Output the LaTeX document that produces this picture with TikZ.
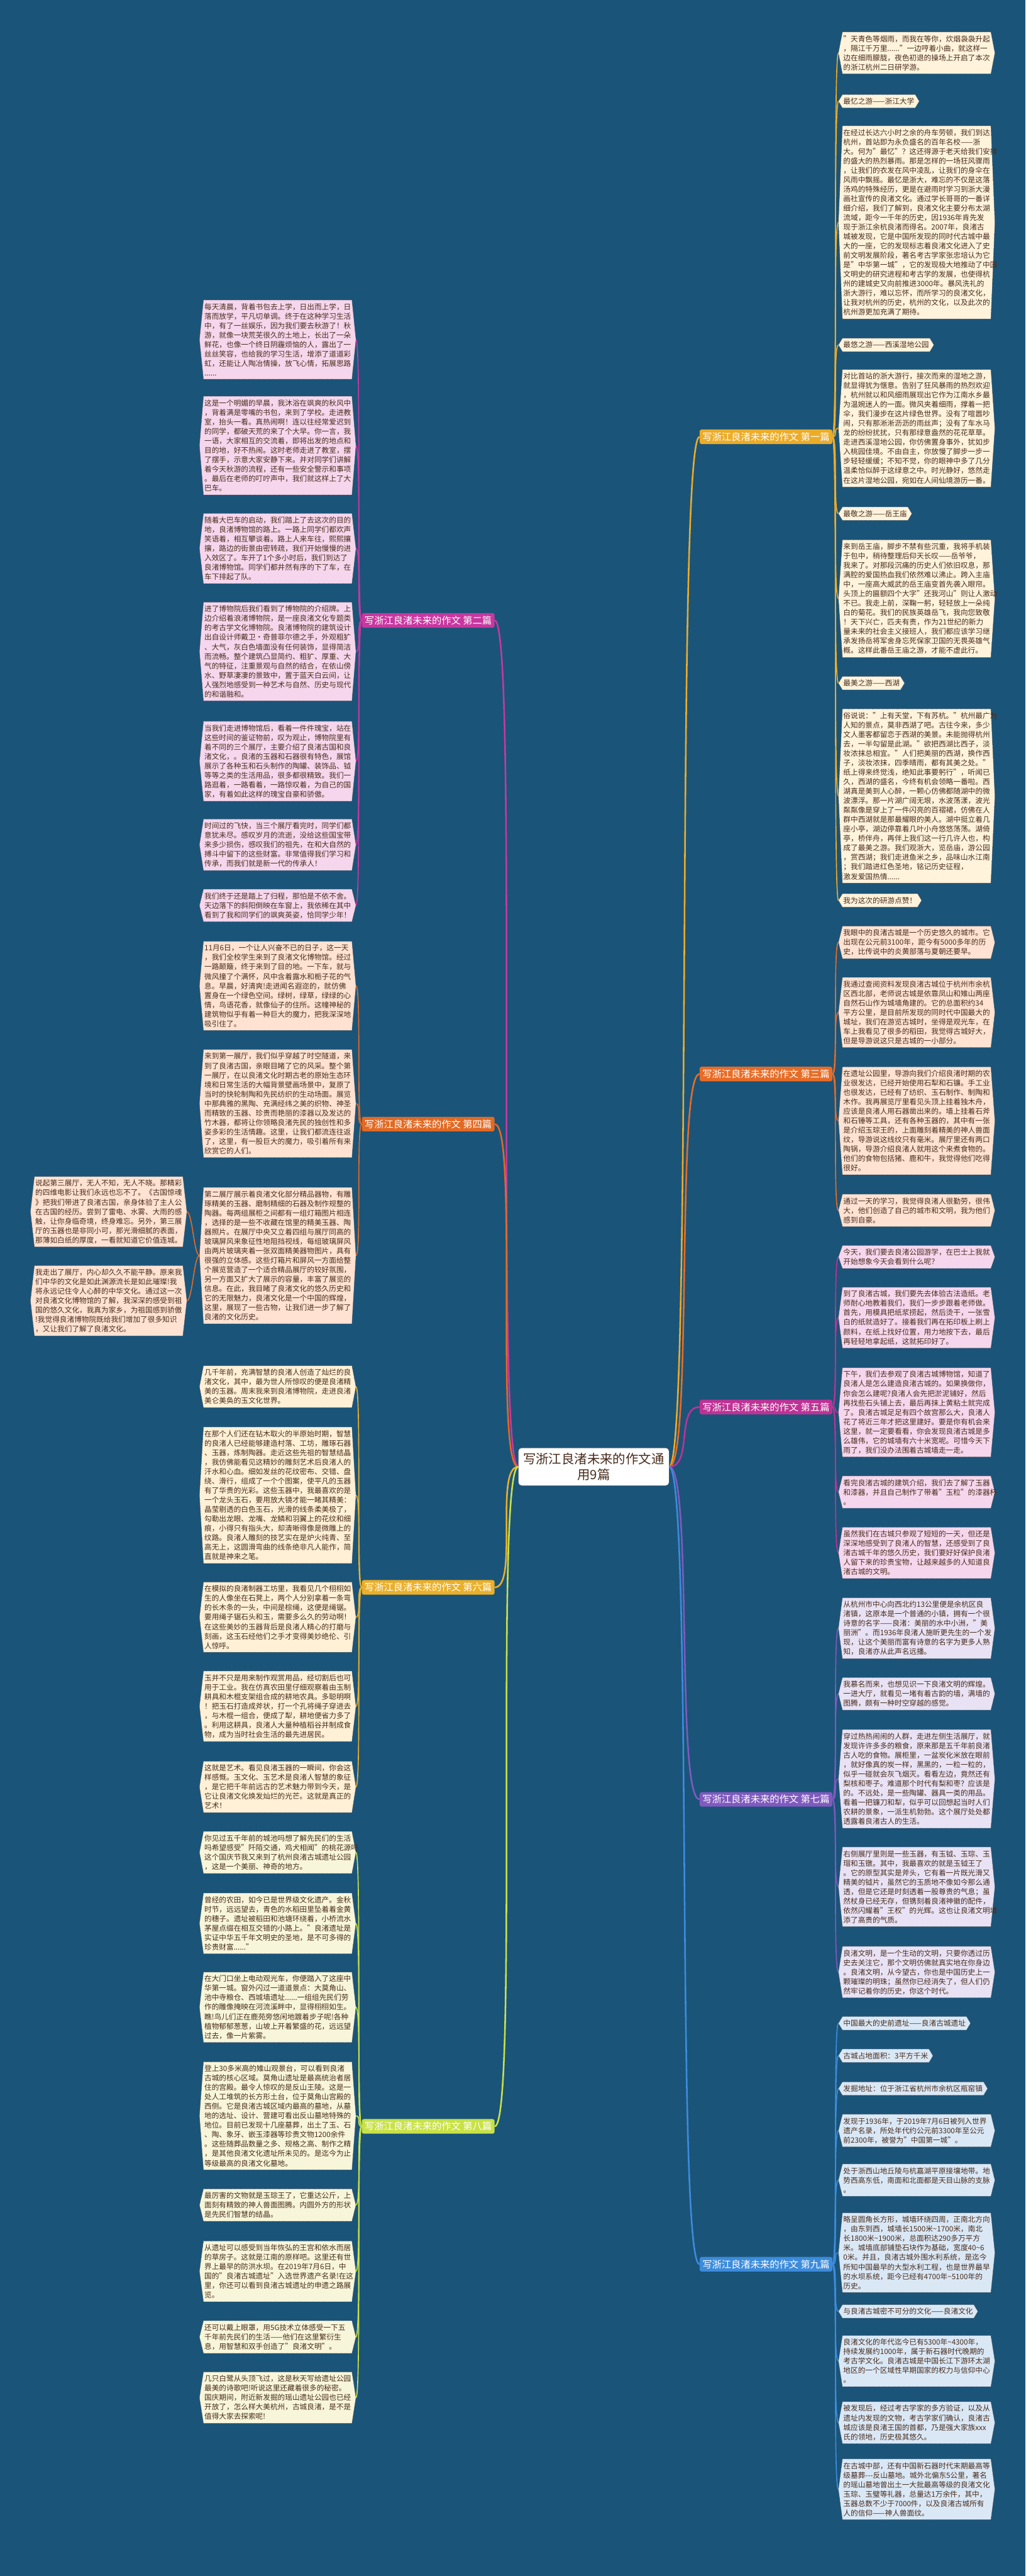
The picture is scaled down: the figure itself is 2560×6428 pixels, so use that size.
\documentclass[tikz,border=0pt]{standalone}
\usepackage{fontspec}
\setmainfont{Noto Sans CJK SC}
\usetikzlibrary{backgrounds}

\definecolor{sea}{RGB}{27,84,121}
\definecolor{ink}{RGB}{72,44,28}
\definecolor{edge}{RGB}{80,80,80}
\definecolor{c1}{RGB}{236,172,40}
\definecolor{c2}{RGB}{200,55,160}
\definecolor{c3}{RGB}{232,108,38}
\definecolor{c4}{RGB}{226,106,36}
\definecolor{c5}{RGB}{190,50,150}
\definecolor{c6}{RGB}{234,176,42}
\definecolor{c7}{RGB}{128,90,190}
\definecolor{c8}{RGB}{200,226,70}
\definecolor{c9}{RGB}{60,140,220}
\definecolor{f1}{RGB}{255,243,220}
\definecolor{f2}{RGB}{246,214,236}
\definecolor{f3}{RGB}{255,226,210}
\definecolor{f5}{RGB}{246,214,236}
\definecolor{f6}{RGB}{255,240,214}
\definecolor{f7}{RGB}{232,226,244}
\definecolor{f8}{RGB}{248,246,218}
\definecolor{f9}{RGB}{218,232,246}

\newcommand\leaffont{\fontsize{18.3}{23.6}\selectfont}
\newcommand\branchfont{\fontsize{24}{30}\selectfont}
\newcommand\hubfont{\fontsize{32}{40}\selectfont}

\tikzset{
  leaf/.style={anchor=north west, inner xsep=2pt, inner ysep=8pt, align=left, text=ink, font=\leaffont},
  wide/.style={leaf, text width=366pt},
  hexa/.style={draw=edge, densely dotted, line width=0.8pt},
  branch/.style={rounded corners=5pt, inner sep=7pt, text=white, font=\branchfont},
  hub/.style={fill=white, draw=edge, rounded corners=8pt, inner sep=12pt, align=center, text=ink, font=\hubfont},
  twig/.style={line width=2.6pt},
  bough/.style={line width=4pt}
}

\begin{document}
\begin{tikzpicture}[x=1pt, y=-1pt]
\useasboundingbox (0,0) rectangle (2560,6428);

\node[hub] (hub) at (1482,3660) {写浙江良渚未来的作文通\\用9篇};

\node[branch, fill=c1, anchor=east] (b1) at (2078,1090) {写浙江良渚未来的作文 第一篇};
\node[branch, fill=c3, anchor=east] (b3) at (2078,2680) {写浙江良渚未来的作文 第三篇};
\node[branch, fill=c5, anchor=east] (b5) at (2078,3511) {写浙江良渚未来的作文 第五篇};
\node[branch, fill=c7, anchor=east] (b7) at (2078,4490) {写浙江良渚未来的作文 第七篇};
\node[branch, fill=c9, anchor=east] (b9) at (2078,5650) {写浙江良渚未来的作文 第九篇};
\node[branch, fill=c2, anchor=west] (b2) at (903,1548) {写浙江良渚未来的作文 第二篇};
\node[branch, fill=c4, anchor=west] (b4) at (903,2805) {写浙江良渚未来的作文 第四篇};
\node[branch, fill=c6, anchor=west] (b6) at (903,3961) {写浙江良渚未来的作文 第六篇};
\node[branch, fill=c8, anchor=west] (b8) at (903,5306) {写浙江良渚未来的作文 第八篇};

\node[wide] (r1a) at (2103,80) {"天青色等烟雨，而我在等你，炊烟袅袅升起\\
，隔江千万里......"一边哼着小曲，就这样一\\
边在细雨朦胧，夜色初退的操场上开启了本次\\
的浙江杭州二日研学游。};
\node[leaf] (r1b) at (2103,236) {最忆之游——浙江大学};
\node[wide] (r1c) at (2103,314) {在经过长达六小时之余的舟车劳顿，我们到达\\
杭州，首站即为永负盛名的百年名校——浙\\
大。何为"最忆"？这还得源于老天给我们安排\\
的盛大的热烈暴雨。那是怎样的一场狂风骤雨\\
，让我们的衣发在风中凌乱，让我们的身伞在\\
风雨中飘摇。最忆是浙大，难忘的不仅是这落\\
汤鸡的特殊经历，更是在避雨时学习到浙大漫\\
画社宣传的良渚文化。通过学长哥哥的一番详\\
细介绍，我们了解到，良渚文化主要分布太湖\\
流域，距今一千年的历史，因1936年肯先发\\
现于浙江余杭良渚而得名。2007年，良渚古\\
城被发现，它是中国所发现的同时代古城中最\\
大的一座，它的发现标志着良渚文化进入了史\\
前文明发展阶段，著名考古学家张忠培认为它\\
是"中华第一城"，它的发现极大地推动了中国\\
文明史的研究进程和考古学的发展，也使得杭\\
州的建城史又向前推进3000年。暴风洗礼的\\
浙大游行，难以忘怀，而所学习的良渚文化，\\
让我对杭州的历史，杭州的文化，以及此次的\\
杭州游更加充满了期待。};
\node[leaf] (r1d) at (2103,844) {最悠之游——西溪湿地公园};
\node[wide] (r1e) at (2103,922) {对比首站的浙大游行，接次而来的湿地之游，\\
就显得犹为惬意。告别了狂风暴雨的热烈欢迎\\
，杭州就以和风细雨展现出它作为江南水乡最\\
为温婉迷人的一面。微风夹着细雨，撑着一把\\
伞，我们漫步在这片绿色世界。没有了喧嚣吵\\
闹，只有那淅淅沥沥的雨丝声；没有了车水马\\
龙的纷纷扰扰，只有那绿意盎然的花花草草。\\
走进西溪湿地公园，你仿佛置身事外，犹如步\\
入桃园佳境。不由自主，你放慢了脚步一步一\\
步轻轻缓缓；不知不觉，你的眼神中多了几分\\
温柔恰似醉于这绿意之中。时光静好，悠然走\\
在这片湿地公园，宛如在人间仙境游历一番。};
\node[leaf] (r1f) at (2103,1265) {最敬之游——岳王庙};
\node[wide] (r1g) at (2103,1347) {来到岳王庙，脚步不禁有些沉重，我将手机装\\
于包中，稍待整理后仰天长叹——岳爷爷，\\
我来了。对那段沉痛的历史人们依旧叹息，那\\
满腔的爱国热血我们依然难以沸止。跨入主庙\\
中，一座高大威武的岳王庙变首先袭入眼帘。\\
头顶上的匾额四个大字"还我河山"则让人激动\\
不已。我走上前，深鞠一躬，轻轻放上一朵纯\\
白的菊花。我们的民族英雄岳飞，我向您致敬\\
！天下兴亡，匹夫有责，作为21世纪的新力\\
量未来的社会主义接班人，我们都应该学习继\\
承发扬岳将军舍身忘死保家卫国的无畏英雄气\\
概。这样此番岳王庙之游，才能不虚此行。};
\node[leaf] (r1h) at (2103,1688) {最美之游——西湖};
\node[wide] (r1i) at (2103,1769) {俗说说："上有天堂，下有苏杭。"杭州最广为\\
人知的景点，莫非西湖了吧。古往今来，多少\\
文人墨客都留恋于西湖的美景。未能抛得杭州\\
去，一半勾留是此湖。"欲把西湖比西子，淡\\
妆浓抹总相宜。"人们把美丽的西湖，换作西\\
子，淡妆浓抹，四季晴雨，都有其美之处。"\\
纸上得来终觉浅，绝知此事要躬行"，听闻已\\
久，西湖的盛名，今终有机会领略一番啦。西\\
湖真是美到人心醉，一颗心仿佛都随湖中的微\\
波漂浮。那一片湖广阔无垠，水波荡漾，波光\\
粼粼像是穿上了一件闪亮的百褶裙，仿佛在人\\
群中西湖就是那最耀眼的美人。湖中挺立着几\\
座小亭，湖边停靠着几叶小舟悠悠荡荡。湖倚\\
亭，桥伴舟，再伴上我们这一行几许人也，构\\
成了最美之游。我们观浙大，览岳庙，游公园\\
，赏西湖；我们走进鱼米之乡，品味山水江南\\
；我们踏进红色圣地，铭记历史征程，\\
激发爱国热情......};
\node[leaf] (r1j) at (2103,2230) {我为这次的研游点赞！};

\node[wide] (r3a) at (2103,2311) {我眼中的良渚古城是一个历史悠久的城市。它\\
出现在公元前3100年，距今有5000多年的历\\
史，比传说中的炎黄部落与夏朝还要早。};
\node[wide] (r3b) at (2103,2439) {我通过查阅资料发现良渚古城位于杭州市余杭\\
区西北部，老师说古城是依靠凤山和雉山两座\\
自然石山作为城墙角建的。它的总面积约34\\
平方公里，是目前所发现的同时代中国最大的\\
城址，我们在游览古城时，坐得是观光车，在\\
车上我看见了很多的稻田，我觉得古城好大，\\
但是导游说这只是古城的一小部分。};
\node[wide] (r3c) at (2103,2662) {在遗址公园里，导游向我们介绍良渚时期的农\\
业很发达，已经开始使用石犁和石镰。手工业\\
也很发达，已经有了纺织、玉石制作、制陶和\\
木作。我再展览厅里看见头顶上挂着独木舟，\\
应该是良渚人用石器凿出来的。墙上挂着石斧\\
和石锤等工具，还有各种玉器的，其中有一张\\
是介绍玉琮王的，上面雕刻着精美的神人兽面\\
纹，导游说这线纹只有毫米。展厅里还有两口\\
陶锅，导游介绍良渚人就用这个来煮食物的。\\
他们的食物包括猪、鹿和牛，我觉得他们吃得\\
很好。};
\node[wide] (r3d) at (2103,2980) {通过一天的学习，我觉得良渚人很勤劳，很伟\\
大，他们创造了自己的城市和文明，我为他们\\
感到自豪。};

\node[wide] (r5a) at (2103,3108) {今天，我们要去良渚公园游学，在巴士上我就\\
开始想象今天会看到什么呢？};
\node[wide] (r5b) at (2103,3212) {到了良渚古城，我们要先去体验古法造纸。老\\
师耐心地教着我们，我们一步步跟着老师做。\\
首先，用模具把纸浆捞起，然后烫干，一张雪\\
白的纸就造好了。接着我们再在拓印板上刷上\\
颜料，在纸上找好位置，用力地按下去，最后\\
再轻轻地拿起纸，这就拓印好了。};
\node[wide] (r5c) at (2103,3413) {下午，我们去参观了良渚古城博物馆，知道了\\
良渚人是怎么建造良渚古城的。如果换做你，\\
你会怎么建呢?良渚人会先把淤泥铺好，然后\\
再找些石头铺上去，最后再抹上黄粘土就完成\\
了。良渚古城足足有四个故宫那么大，良渚人\\
花了将近三年才把这里建好。要是你有机会来\\
这里，就一定要看看，你会发现良渚古城是多\\
么雄伟，它的城墙有六十米宽呢。可惜今天下\\
雨了，我们没办法围着古城墙走一走。};
\node[wide] (r5d) at (2103,3683) {看完良渚古城的建筑介绍，我们去了解了玉器\\
和漆器，并且自己制作了带着"玉粒"的漆器杯\\
。};
\node[wide] (r5e) at (2103,3811) {虽然我们在古城只参观了短短的一天，但还是\\
深深地感受到了良渚人的智慧，还感受到了良\\
渚古城千年的悠久历史，我们要好好保护良渚\\
人留下来的珍贵宝物，让越来越多的人知道良\\
渚古城的文明。};

\node[wide] (r7a) at (2103,3987) {从杭州市中心向西北约13公里便是余杭区良\\
渚镇，这原本是一个普通的小镇，拥有一个很\\
诗意的名字——良渚：美丽的水中小洲，"美\\
丽洲"。而1936年良渚人施昕更先生的一个发\\
现，让这个美丽而富有诗意的名字为更多人熟\\
知，良渚亦从此声名远播。};
\node[wide] (r7b) at (2103,4186) {我慕名而来，也想见识一下良渚文明的辉煌。\\
一进大厅，就看见一堵有着古韵的墙，满墙的\\
图腾，颇有一种时空穿越的感觉。};
\node[wide] (r7c) at (2103,4316) {穿过热热闹闹的人群，走进左侧生活展厅，就\\
发现许许多多的粮食，原来那是五千年前良渚\\
古人吃的食物。展柜里，一盆炭化米放在眼前\\
，就好像真的炭一样，黑黑的，一粒一粒的，\\
似乎一碰就会灰飞烟灭。看看左边，竟然还有\\
梨核和枣子。难道那个时代有梨和枣？应该是\\
的。不远处，是一些陶罐、器具一类的用品。\\
看着一把镰刀和犁，似乎可以回想起当时人们\\
农耕的景象，一派生机勃勃。这个展厅处处都\\
透露着良渚古人的生活。};
\node[wide] (r7d) at (2103,4609) {右侧展厅里则是一些玉器，有玉钺、玉琮、玉\\
瑁和玉镦。其中，我最喜欢的就是玉钺王了\\
。它的原型其实是斧头，它有着一片既光滑又\\
精美的钺片，虽然它的玉质地不像如今那么通\\
透，但是它还是时刻透着一股尊贵的气息；虽\\
然杖身已经无存，但镌刻着良渚神徽的配件，\\
依然闪耀着"王权"的光辉。这也让良渚文明增\\
添了高贵的气质。};
\node[wide] (r7e) at (2103,4857) {良渚文明，是一个生动的文明，只要你透过历\\
史去关注它，那个文明仿佛就真实地在你身边\\
。良渚文明，从今望古，你也是中国历史上一\\
颗璀璨的明珠；虽然你已经消失了，但人们仍\\
然牢记着你的历史，你这个时代。};

\node[leaf] (r9a) at (2103,5032) {中国最大的史前遗址——良渚古城遗址};
\node[leaf] (r9b) at (2103,5113) {古城占地面积：3平方千米};
\node[leaf] (r9c) at (2103,5195) {发掘地址：位于浙江省杭州市余杭区瓶窑镇};
\node[wide] (r9d) at (2103,5276) {发现于1936年，于2019年7月6日被列入世界\\
遗产名录，所处年代约公元前3300年至公元\\
前2300年，被誉为"中国第一城"。};
\node[wide] (r9e) at (2103,5400) {处于浙西山地丘陵与杭嘉湖平原接壤地带。地\\
势西高东低，南面和北面都是天目山脉的支脉\\
。};
\node[wide] (r9f) at (2103,5522) {略呈圆角长方形，城墙环绕四周，正南北方向\\
，由东到西，城墙长1500米\textasciitilde 1700米，南北\\
长1800米\textasciitilde 1900米，总面积达290多万平方\\
米。城墙底部铺垫石块作为基础，宽度40\textasciitilde 6\\
0米。并且，良渚古城外围水利系统，是迄今\\
所知中国最早的大型水利工程，也是世界最早\\
的水坝系统，距今已经有4700年\textasciitilde 5100年的\\
历史。};
\node[leaf] (r9g) at (2103,5751) {与良渚古城密不可分的文化——良渚文化};
\node[wide] (r9h) at (2103,5828) {良渚文化的年代迄今已有5300年\textasciitilde 4300年，\\
持续发展约1000年，属于新石器时代晚期的\\
考古学文化。良渚古城是中国长江下游环太湖\\
地区的一个区域性早期国家的权力与信仰中心\\
。};
\node[wide] (r9i) at (2103,5993) {被发现后，经过考古学家的多方验证，以及从\\
遗址内发现的文物，考古学家们确认，良渚古\\
城应该是良渚王国的首都，乃是强大家族xxx\\
氏的领地，历史极其悠久。};
\node[wide] (r9j) at (2103,6136) {在古城中部，还有中国新石器时代末期最高等\\
级墓葬-{}-{}-反山墓地。城外北偏东5公里，著名\\
的瑶山墓地曾出土一大批最高等级的良渚文化\\
玉琮、玉璧等礼器，总量达1万余件，其中，\\
玉器总数不少于7000件，以及良渚古城所有\\
人的信仰——神人兽面纹。};

\node[wide, anchor=south west] (l2a) at (508,946) {每天清晨，背着书包去上学，日出而上学，日\\
落而放学，平凡切单调。终于在这种学习生活\\
中，有了一丝娱乐，因为我们要去秋游了！秋\\
游，就像一块荒芜很久的土地上，长出了一朵\\
鲜花，也像一个终日阴霾烦恼的人，露出了一\\
丝丝笑容，也给我的学习生活，增添了道道彩\\
虹，还能让人陶冶情操，放飞心情，拓展思路\\
......};
\node[wide] (l2b) at (508,989) {这是一个明媚的早晨，我沐浴在飒爽的秋风中\\
，背着满是零嘴的书包，来到了学校。走进教\\
室，抬头一看。真热闹啊！连以往经常爱迟到\\
的同学，都破天荒的来了个大早。你一言，我\\
一语，大家相互的交流着，即将出发的地点和\\
目的地，好不热闹。这时老师走进了教室，摆\\
了摆手，示意大家安静下来。并对同学们讲解\\
着今天秋游的流程，还有一些安全警示和事项\\
。最后在老师的叮咛声中，我们就这样上了大\\
巴车。};
\node[wide] (l2c) at (508,1281) {随着大巴车的启动，我们踏上了去这次的目的\\
地，良渚博物馆的路上。一路上同学们都欢声\\
笑语着，相互攀谈着。路上人来车往，熙熙攘\\
攘，路边的街景由密转疏，我们开始慢慢的进\\
入效区了。车开了1个多小时后，我们到达了\\
良渚博物馆。同学们都井然有序的下了车，在\\
车下排起了队。};
\node[wide] (l2d) at (508,1503) {进了博物院后我们看到了博物院的介绍牌。上\\
边介绍着浪渚博物院，是一座良渚文化专题类\\
的考古学文化博物院。良渚博物院的建筑设计\\
出自设计师戴卫·奇普菲尔德之手，外观粗犷\\
、大气，灰白色墙面没有任何装饰，显得简洁\\
而流畅。整个建筑凸显简约、粗犷、厚重、大\\
气的特征，注重景观与自然的结合，在依山傍\\
水、野草凄凄的景致中，置于蓝天白云间，让\\
人强烈地感受到一种艺术与自然、历史与现代\\
的和谐融和。};
\node[wide] (l2e) at (508,1800) {当我们走进博物馆后，看着一件件瑰宝，站在\\
这些时间的鉴证物前，叹为观止，博物院里有\\
着不同的三个展厅，主要介绍了良渚古国和良\\
渚文化，。良渚的玉器和石器很有特色，展馆\\
展示了各种玉和石头制作的陶罐、装饰品、钺\\
等等之类的生活用品，很多都很精致。我们一\\
路逛着，一路看着，一路惊叹着，为自己的国\\
家，有着如此这样的瑰宝自豪和骄傲。};
\node[wide] (l2f) at (508,2044) {时间过的飞快，当三个展厅看完时，同学们都\\
意犹未尽。感叹岁月的流逝，没给这些国宝带\\
来多少损伤，感叹我们的祖先，在和大自然的\\
搏斗中留下的这些财富。非常值得我们学习和\\
传承，而我们就是新一代的传承人！};
\node[wide] (l2g) at (508,2219) {我们终于还是踏上了归程，那怕是不依不舍。\\
天边落下的斜阳倒映在车窗上，我依稀在其中\\
看到了我和同学们的飒爽英姿，恰同学少年！};

\node[wide] (l4a) at (508,2349) {11月6日，一个让人兴奋不已的日子，这一天\\
，我们全校学生来到了良渚文化博物馆。经过\\
一路颠簸，终于来到了目的地。一下车，就与\\
微风撞了个满怀，风中含着露水和栀子花的气\\
息。早晨，好清爽!走进闻名遐迩的，就仿佛\\
置身在一个绿色空间。绿树，绿草，绿绿的心\\
情，鸟语花香，就像仙子的住所。这幢神秘的\\
建筑物似乎有着一种巨大的魔力，把我深深地\\
吸引住了。};
\node[wide] (l4b) at (508,2619) {来到第一展厅，我们似乎穿越了时空隧道，来\\
到了良渚古国，亲眼目睹了它的风采。整个第\\
一展厅，在以良渚文化时期古老的原始生态环\\
境和日常生活的大幅背景壁画场景中，复原了\\
当时的快轮制陶和先民纺织的生动场面。展览\\
中那典雅的黑陶、充满经纬之美的织物、神圣\\
而精致的玉器、珍贵而艳丽的漆器以及发达的\\
竹木器，都将让你领略良渚先民的独创性和多\\
姿多彩的生活情趣。这里，让我们都流连往返\\
了，这里，有一股巨大的魔力，吸引着所有来\\
欣赏它的人们。};
\node[wide] (l4c) at (508,2963) {第二展厅展示着良渚文化部分精品器物，有雕\\
琢精美的玉器、磨制精细的石器及制作规整的\\
陶器。每两组展柜之间都有一组灯箱图片相连\\
，选择的是一些不收藏在馆里的精美玉器、陶\\
器照片。在展厅中央又立着四组与展厅同高的\\
玻璃屏风来象征性地阻挡视线，每组玻璃屏风\\
由两片玻璃夹着一张双面精美器物图片，具有\\
很强的立体感。这些灯箱片和屏风一方面给整\\
个展览营造了一个适合精品展厅的较好氛围，\\
另一方面又扩大了展示的容量，丰富了展览的\\
信息。在此，我目睹了良渚文化的悠久历史和\\
它的无限魅力，良渚文化是一个中国的辉煌，\\
这里，展现了一些古物，让我们进一步了解了\\
良渚的文化历史。};
\node[wide] (fl1) at (86,2936) {说起第三展厅，无人不知，无人不晓。那精彩\\
的四维电影让我们永远也忘不了。《古国惊魂\\
》把我们带进了良渚古国，亲身体验了主人公\\
在古国的经历。尝到了雷电、水雾、大雨的感\\
触，让你身临奇境，终身难忘。另外，第三展\\
厅的玉器也是非同小可，那光滑细腻的表面，\\
那薄如白纸的厚度，一看就知道它价值连城。};
\node[wide] (fl2) at (86,3158) {我走出了展厅，内心却久久不能平静。原来我\\
们中华的文化是如此渊源流长是如此璀璨!我\\
将永远记住令人心醉的中华文化。通过这一次\\
对良渚文化博物馆的了解，我深深的感受到祖\\
国的悠久文化，我真为家乡，为祖国感到骄傲\\
!我觉得良渚博物院既给我们增加了很多知识\\
，又让我们了解了良渚文化。};

\node[wide] (l6a) at (508,3408) {几千年前，充满智慧的良渚人创造了灿烂的良\\
渚文化，其中，最为世人所惊叹的便是良渚精\\
美的玉器。周末我来到良渚博物院，走进良渚\\
美仑美奂的玉文化世界。};
\node[wide] (l6b) at (508,3561) {在那个人们还在钻木取火的半原始时期，智慧\\
的良渚人已经能够建造村落、工坊，雕琢石器\\
、玉器，炼制陶器。走近这些先祖的智慧结晶\\
，我仿佛能看见这精妙的雕刻艺术后良渚人的\\
汗水和心血。细如发丝的花纹密布、交错、盘\\
绕、滑行，组成了一个个图案，使平凡的玉器\\
有了华贵的光彩。这些玉器中，我最喜欢的是\\
一个龙头玉石，要用放大镜才能一睹其精美：\\
晶莹剔透的白色玉石，光滑的线条柔美极了，\\
勾勒出龙眼、龙嘴、龙鳞和羽翼上的花纹和细\\
痕，小得只有指头大，却清晰得像是微雕上的\\
纹路。良渚人雕刻的技艺实在是炉火纯青、至\\
高无上，这圆滑弯曲的线条绝非凡人能作，简\\
直就是神来之笔。};
\node[wide] (l6c) at (508,3948) {在模拟的良渚制器工坊里，我看见几个栩栩如\\
生的人像坐在石凳上，两个人分别拿着一条弯\\
的长木条的一头，中间是棕绳，这便是绳锯。\\
要用绳子锯石头和玉，需要多么久的劳动啊！\\
在这些美妙的玉器背后是良渚人精心的打磨与\\
刻画，这玉石经他们之手才变得美妙绝伦、引\\
人惊呼。};
\node[wide] (l6d) at (508,4170) {玉并不只是用来制作观赏用品，经切割后也可\\
用于工业。我在仿真农田里仔细观察着由玉制\\
耕具和木棍支架组合成的耕地农具。多聪明啊\\
！把玉石打造成斧状，打一个孔将绳子穿进去\\
，与木棍一组合，便成了犁，耕地便省力多了\\
。利用这耕具，良渚人大量种植稻谷并制成食\\
物，成为当时社会生活的最先进居民。};
\node[wide] (l6e) at (508,4395) {这就是艺术。看见良渚玉器的一瞬间，你会这\\
样感慨。玉文化、玉艺术是良渚人智慧的象征\\
，是它把千年前远古的艺术魅力带到今天，是\\
它让良渚文化焕发灿烂的光芒。这就是真正的\\
艺术！};

\node[wide] (l8a) at (508,4570) {你见过五千年前的城池吗想了解先民们的生活\\
吗希望感受"阡陌交通，鸡犬相闻"的桃花源吗\\
这个国庆节我又来到了杭州良渚古城遗址公园\\
，这是一个美丽、神奇的地方。};
\node[wide] (l8b) at (508,4724) {曾经的农田，如今已是世界级文化遗产。金秋\\
时节，远远望去，青色的水稻田里坠着着金黄\\
的穗子。遗址被稻田和池塘环绕着，小桥流水\\
茅屋点缀在相互交错的小路上。"良渚遗址是\\
实证中华五千年文明史的圣地，是不可多得的\\
珍贵财富......"};
\node[wide] (l8c) at (508,4921) {在大门口坐上电动观光车，你便踏入了这座中\\
华第一城。窗外闪过一道道景点：大莫角山、\\
池中寺粮仓、西城墙遗址......一组组先民们劳\\
作的雕像掩映在河流溪畔中，显得栩栩如生。\\
瞧!鸟儿们正在鹿苑旁悠闲地踱着步子呢!各种\\
植物郁郁葱葱，山坡上开着繁盛的花，远远望\\
过去，像一片紫雾。};
\node[wide] (l8d) at (508,5145) {登上30多米高的雉山观景台，可以看到良渚\\
古城的核心区域。莫角山遗址是最高统治者居\\
住的宫殿。最令人惊叹的是反山王陵。这是一\\
处人工堆筑的长方形土台，位于莫角山宫殿的\\
西侧。它是良渚古城区域内最高的墓地，从墓\\
地的选址、设计、营建可看出反山墓地特殊的\\
地位。目前已发现十几座墓葬，出土了玉、石\\
、陶、象牙、嵌玉漆器等珍贵文物1200余件\\
。这些随葬品数量之多、规格之高、制作之精\\
，是其他良渚文化遗址所未见的。是迄今为止\\
等级最高的良渚文化墓地。};
\node[wide] (l8e) at (508,5462) {最厉害的文物就是玉琮王了，它重达公斤，上\\
面刻有精致的神人兽面图腾。内圆外方的形状\\
是先民们智慧的结晶。};
\node[wide] (l8f) at (508,5592) {从遗址可以感受到当年恢弘的王宫和依水而居\\
的草房子。这就是江南的原样吧。这里还有世\\
界上最早的防洪水坝。在2019年7月6日，中\\
国的"良渚古城遗址"入选世界遗产名录!在这\\
里，你还可以看到良渚古城遗址的申遗之路展\\
览。};
\node[wide] (l8g) at (508,5791) {还可以戴上眼罩，用5G技术立体感受一下五\\
千年前先民们的生活——他们在这里繁衍生\\
息，用智慧和双手创造了"良渚文明"。};
\node[wide] (l8h) at (508,5919) {几只白鹭从头顶飞过，这是秋天写给遗址公园\\
最美的诗歌吧!听说这里还藏着很多的秘密。\\
国庆期间，附近新发掘的瑶山遗址公园也已经\\
开放了，怎么样大美杭州，古城良渚，是不是\\
值得大家去探索呢!};

\begin{pgfonlayer}{background}
\fill[sea] (0,0) rectangle (2560,6428);
\foreach \b/\c in {b1/c1,b3/c3,b5/c5,b7/c7,b9/c9}
  \draw[bough, draw=\c] (hub.east) .. controls +(60,0) and +(-60,0) .. (\b.west);
\foreach \b/\c in {b2/c2,b4/c4,b6/c6,b8/c8}
  \draw[bough, draw=\c] (hub.west) .. controls +(-60,0) and +(60,0) .. (\b.east);
\foreach \n in {r1a,r1b,r1c,r1d,r1e,r1f,r1g,r1h,r1i,r1j}
  \draw[twig, draw=c1] (b1.east) .. controls +(14,0) and +(-14,0) .. ([xshift=-10pt]\n.west);
\foreach \n in {r3a,r3b,r3c,r3d}
  \draw[twig, draw=c3] (b3.east) .. controls +(14,0) and +(-14,0) .. ([xshift=-10pt]\n.west);
\foreach \n in {r5a,r5b,r5c,r5d,r5e}
  \draw[twig, draw=c5] (b5.east) .. controls +(14,0) and +(-14,0) .. ([xshift=-10pt]\n.west);
\foreach \n in {r7a,r7b,r7c,r7d,r7e}
  \draw[twig, draw=c7] (b7.east) .. controls +(14,0) and +(-14,0) .. ([xshift=-10pt]\n.west);
\foreach \n in {r9a,r9b,r9c,r9d,r9e,r9f,r9g,r9h,r9i,r9j}
  \draw[twig, draw=c9] (b9.east) .. controls +(14,0) and +(-14,0) .. ([xshift=-10pt]\n.west);
\foreach \n in {l2a,l2b,l2c,l2d,l2e,l2f,l2g}
  \draw[twig, draw=c2] (b2.west) .. controls +(-14,0) and +(14,0) .. ([xshift=10pt]\n.east);
\foreach \n in {l4a,l4b,l4c}
  \draw[twig, draw=c4] (b4.west) .. controls +(-14,0) and +(14,0) .. ([xshift=10pt]\n.east);
\foreach \n in {fl1,fl2}
  \draw[twig, draw=c4] ([xshift=-10pt]l4c.west) .. controls +(-14,0) and +(14,0) .. ([xshift=10pt]\n.east);
\foreach \n in {l6a,l6b,l6c,l6d,l6e}
  \draw[twig, draw=c6] (b6.west) .. controls +(-14,0) and +(14,0) .. ([xshift=10pt]\n.east);
\foreach \n in {l8a,l8b,l8c,l8d,l8e,l8f,l8g,l8h}
  \draw[twig, draw=c8] (b8.west) .. controls +(-14,0) and +(14,0) .. ([xshift=10pt]\n.east);
\foreach \n/\f in {r1a/f1,r1b/f1,r1c/f1,r1d/f1,r1e/f1,r1f/f1,r1g/f1,r1h/f1,r1i/f1,r1j/f1,
    r3a/f3,r3b/f3,r3c/f3,r3d/f3,r5a/f5,r5b/f5,r5c/f5,r5d/f5,r5e/f5,
    r7a/f7,r7b/f7,r7c/f7,r7d/f7,r7e/f7,
    r9a/f9,r9b/f9,r9c/f9,r9d/f9,r9e/f9,r9f/f9,r9g/f9,r9h/f9,r9i/f9,r9j/f9,
    l2a/f2,l2b/f2,l2c/f2,l2d/f2,l2e/f2,l2f/f2,l2g/f2,
    l4a/f3,l4b/f3,l4c/f3,fl1/f3,fl2/f3,
    l6a/f6,l6b/f6,l6c/f6,l6d/f6,l6e/f6,
    l8a/f8,l8b/f8,l8c/f8,l8d/f8,l8e/f8,l8f/f8,l8g/f8,l8h/f8}
  \filldraw[hexa, fill=\f] (\n.north west) -- (\n.north east) -- ([xshift=10pt]\n.east)
    -- (\n.south east) -- (\n.south west) -- ([xshift=-10pt]\n.west) -- cycle;
\end{pgfonlayer}
\end{tikzpicture}
\end{document}
